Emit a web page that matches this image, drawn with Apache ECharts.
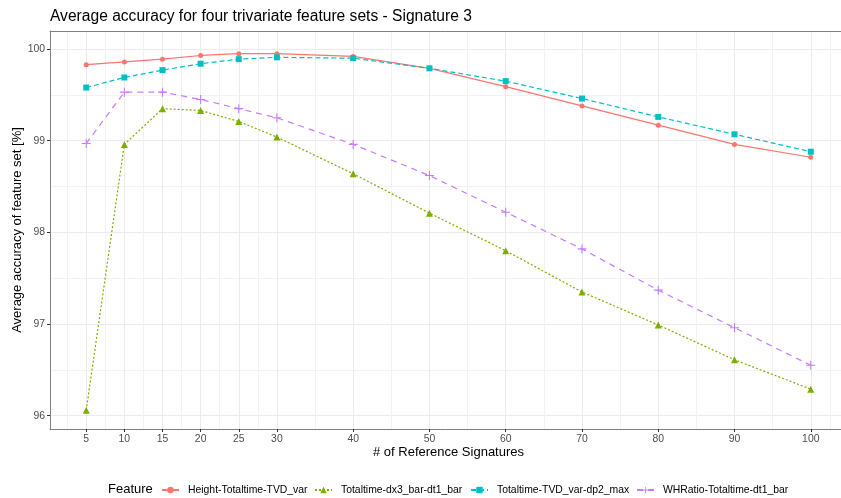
<!DOCTYPE html>
<html>
<head>
<meta charset="utf-8">
<script src="https://cdn.jsdelivr.net/npm/echarts@6/dist/echarts.min.js"></script>
<style>
html,body{margin:0;padding:0;background:#fff;}
#chart{width:841px;height:498px;}
</style>
</head>
<body>
<div id="chart"></div>
<script>
const refSignatures = [5, 10, 15, 20, 25, 30, 40, 50, 60, 70, 80, 90, 100];
const heightTotaltimeTVDvar = [99.83, 99.86, 99.89, 99.93, 99.95, 99.95, 99.92, 99.79, 99.59, 99.38, 99.17, 98.96, 98.82];
const totaltimeDx3BarDt1Bar = [96.06, 98.96, 99.35, 99.33, 99.21, 99.04, 98.64, 98.21, 97.80, 97.35, 96.99, 96.61, 96.29];
const totaltimeTVDvarDp2Max = [99.58, 99.69, 99.77, 99.84, 99.89, 99.91, 99.90, 99.79, 99.65, 99.46, 99.26, 99.07, 98.88];
const whratioTotaltimeDt1Bar = [98.97, 99.53, 99.53, 99.45, 99.35, 99.25, 98.96, 98.62, 98.22, 97.82, 97.37, 96.96, 96.55];
const seriesNames = ['Height-Totaltime-TVD_var', 'Totaltime-dx3_bar-dt1_bar', 'Totaltime-TVD_var-dp2_max', 'WHRatio-Totaltime-dt1_bar'];
const xTicks = [5, 10, 15, 20, 25, 30, 40, 50, 60, 70, 80, 90, 100];
const xMinor = [2.5, 7.5, 12.5, 17.5, 22.5, 27.5, 35, 45, 55, 65, 75, 85, 95, 102.5];
const yTicks = [96, 97, 98, 99, 100];
const yMinor = [96.5, 97.5, 98.5, 99.5];

const colors = ['#F8766D', '#7CAE00', '#00BFC4', '#C77CFF'];
const symbols = ['circle', 'triangle', 'rect', 'path://M4.4,0H5.6V4.4H10V5.6H5.6V10H4.4V5.6H0V4.4H4.4Z'];
const symbolSizes = [5, 7, 6, 9];
const dashes = ['solid', [2, 2], [5, 3], [6, 5]];
const allValues = [heightTotaltimeTVDvar, totaltimeDx3BarDt1Bar, totaltimeTVDvarDp2Max, whratioTotaltimeDt1Bar];
const legendLefts = [161, 314, 470, 636];

const chart = echarts.init(document.getElementById('chart'), null, {renderer: 'canvas'});
const FONT = 'Liberation Sans, Arial, sans-serif';
const xMin = 0.25, xMax = 104.75, yMin = 95.855, yMax = 100.197;

const series = allValues.map((vals, i) => ({
  name: seriesNames[i],
  type: 'line',
  xAxisIndex: 0,
  yAxisIndex: 0,
  data: refSignatures.map((x, j) => [x, vals[j]]),
  symbol: symbols[i],
  symbolSize: symbolSizes[i],
  showSymbol: true,
  color: colors[i],
  itemStyle: {color: colors[i]},
  lineStyle: {color: colors[i], width: 1.2, type: dashes[i]},
  emphasis: {disabled: true},
  animation: false,
  z: 3 + i
}));

const legends = seriesNames.map((n, i) => ({
  left: legendLefts[i], top: 485, padding: 0,
  itemWidth: 17, itemHeight: 8, itemGap: 0,
  selectedMode: false,
  textStyle: {fontFamily: FONT, fontSize: 10.4, color: '#000', padding: [0, 0, 0, 4]},
  data: [n]
}));

chart.setOption({
  animation: false,
  textStyle: {fontFamily: FONT},
  title: [{
    text: 'Average accuracy for four trivariate feature sets - Signature 3',
    left: 50, top: 9, padding: 0,
    textStyle: {fontFamily: FONT, fontSize: 15.6, fontWeight: 'normal', color: '#000'}
  }, {
    text: 'Feature',
    left: 108, top: 483, padding: 0,
    textStyle: {fontFamily: FONT, fontSize: 13, fontWeight: 'normal', color: '#000'}
  }],
  legend: legends,
  grid: {left: 50, top: 31, width: 797, height: 398, containLabel: false, outerBoundsMode: 'none'},
  xAxis: [{
    type: 'value', min: xMin, max: xMax, position: 'bottom',
    name: '# of Reference Signatures', nameLocation: 'middle', nameGap: 17, nameMoveOverlap: false,
    nameTextStyle: {fontFamily: FONT, fontSize: 13, color: '#000'},
    axisLine: {show: true, onZero: false, lineStyle: {color: '#808080', width: 1}},
    axisTick: {show: true, length: 3, lineStyle: {color: '#333', width: 1}, customValues: xTicks},
    axisLabel: {show: true, customValues: xTicks, margin: 5, fontSize: 10.4, color: '#4d4d4d', fontFamily: FONT},
    splitLine: {show: true, customValues: xTicks, lineStyle: {color: '#ebebeb', width: 1}}
  }, {
    type: 'value', min: xMin, max: xMax, position: 'top',
    axisLine: {show: true, onZero: false, lineStyle: {color: '#808080', width: 1}},
    axisTick: {show: false, customValues: xMinor},
    axisLabel: {show: false, customValues: xMinor},
    splitLine: {show: true, customValues: xMinor, lineStyle: {color: '#f2f2f2', width: 1}}
  }],
  yAxis: [{
    type: 'value', min: yMin, max: yMax, position: 'left',
    name: 'Average accuracy of feature set [%]', nameLocation: 'middle', nameGap: 26, nameMoveOverlap: false,
    nameTextStyle: {fontFamily: FONT, fontSize: 13, color: '#000'},
    axisLine: {show: true, onZero: false, lineStyle: {color: '#808080', width: 1}},
    axisTick: {show: true, length: 3, lineStyle: {color: '#333', width: 1}, customValues: yTicks},
    axisLabel: {show: true, customValues: yTicks, margin: 5, fontSize: 10.4, color: '#4d4d4d', fontFamily: FONT},
    splitLine: {show: true, customValues: yTicks, lineStyle: {color: '#ebebeb', width: 1}}
  }, {
    type: 'value', min: yMin, max: yMax, position: 'right',
    axisLine: {show: false},
    axisTick: {show: false, customValues: yMinor},
    axisLabel: {show: false, customValues: yMinor},
    splitLine: {show: true, customValues: yMinor, lineStyle: {color: '#f2f2f2', width: 1}}
  }],
  series: series
});
</script>
</body>
</html>
